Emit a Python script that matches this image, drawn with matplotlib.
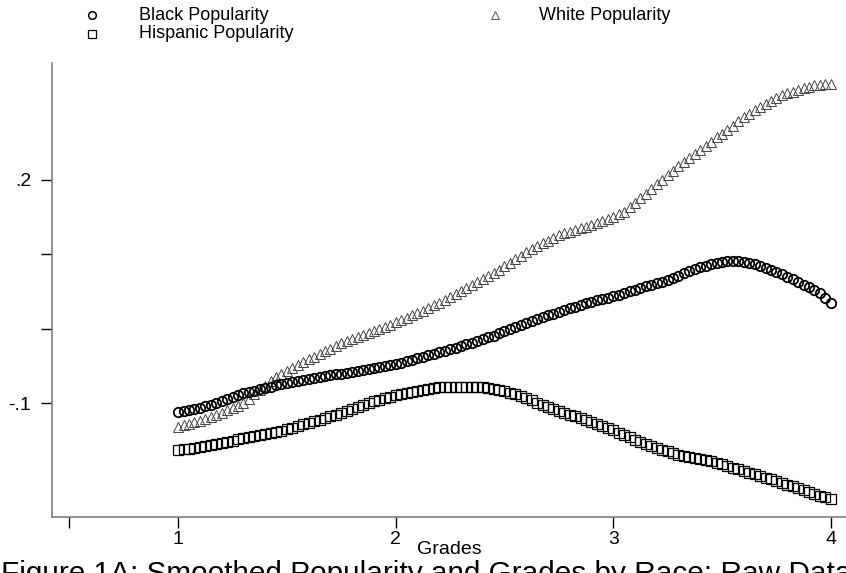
import numpy as np
import matplotlib
matplotlib.use("Agg")
import matplotlib.pyplot as plt
from matplotlib.lines import Line2D

plt.rcParams['font.family'] = ['Liberation Sans', 'DejaVu Sans']

# Smoothed popularity by grade
black_pop = [
    -0.1120, -0.1105, -0.1090, -0.1075, -0.1060, -0.1045, -0.1030, -0.1003, -0.0977, -0.0950,
    -0.0923, -0.0897, -0.0870, -0.0852, -0.0833, -0.0815, -0.0797, -0.0778, -0.0760, -0.0745,
    -0.0730, -0.0715, -0.0700, -0.0685, -0.0670, -0.0659, -0.0648, -0.0637, -0.0626, -0.0615,
    -0.0604, -0.0591, -0.0578, -0.0565, -0.0551, -0.0538, -0.0525, -0.0515, -0.0505, -0.0492,
    -0.0475, -0.0455, -0.0435, -0.0415, -0.0395, -0.0375, -0.0355, -0.0335, -0.0315, -0.0295,
    -0.0275, -0.0255, -0.0233, -0.0210, -0.0187, -0.0163, -0.0140, -0.0117, -0.0092, -0.0063,
    -0.0034, -0.0005, 0.0024, 0.0053, 0.0082, 0.0106, 0.0130, 0.0154, 0.0178, 0.0202,
    0.0227, 0.0250, 0.0273, 0.0296, 0.0319, 0.0342, 0.0365, 0.0383, 0.0401, 0.0419,
    0.0437, 0.0459, 0.0481, 0.0503, 0.0525, 0.0546, 0.0568, 0.0590, 0.0611, 0.0632,
    0.0653, 0.0683, 0.0713, 0.0743, 0.0772, 0.0800, 0.0826, 0.0848, 0.0868, 0.0885,
    0.0898, 0.0906, 0.0908, 0.0905, 0.0897, 0.0885, 0.0869, 0.0845, 0.0818, 0.0790,
    0.0762, 0.0732, 0.0700, 0.0665, 0.0629, 0.0593, 0.0556, 0.0518, 0.0476, 0.0418,
    0.0350,
]

white_pop = [
    -0.1324, -0.1300, -0.1279, -0.1257, -0.1235, -0.1212, -0.1190, -0.1158, -0.1127, -0.1095,
    -0.1063, -0.1032, -0.1000, -0.0942, -0.0883, -0.0825, -0.0767, -0.0708, -0.0650, -0.0610,
    -0.0570, -0.0531, -0.0491, -0.0451, -0.0412, -0.0378, -0.0342, -0.0306, -0.0270, -0.0234,
    -0.0198, -0.0166, -0.0139, -0.0112, -0.0085, -0.0058, -0.0031, -0.0004, 0.0025, 0.0055,
    0.0085, 0.0117, 0.0149, 0.0180, 0.0212, 0.0244, 0.0276, 0.0314, 0.0352, 0.0391,
    0.0429, 0.0467, 0.0505, 0.0545, 0.0585, 0.0625, 0.0665, 0.0705, 0.0748, 0.0794,
    0.0840, 0.0887, 0.0933, 0.0979, 0.1025, 0.1065, 0.1105, 0.1145, 0.1185, 0.1225,
    0.1262, 0.1284, 0.1306, 0.1328, 0.1350, 0.1372, 0.1395, 0.1420, 0.1445, 0.1472,
    0.1502, 0.1535, 0.1570, 0.1630, 0.1692, 0.1754, 0.1815, 0.1877, 0.1938, 0.1998,
    0.2059, 0.2120, 0.2180, 0.2240, 0.2295, 0.2350, 0.2405, 0.2460, 0.2515, 0.2570,
    0.2622, 0.2676, 0.2730, 0.2784, 0.2838, 0.2890, 0.2935, 0.2975, 0.3015, 0.3055,
    0.3095, 0.3135, 0.3165, 0.3186, 0.3207, 0.3228, 0.3249, 0.3268, 0.3280, 0.3287,
    0.3292,
]

hispanic_pop = [
    -0.1634, -0.1623, -0.1612, -0.1600, -0.1589, -0.1578, -0.1567, -0.1551, -0.1535, -0.1519,
    -0.1504, -0.1488, -0.1472, -0.1459, -0.1445, -0.1432, -0.1419, -0.1405, -0.1392, -0.1371,
    -0.1350, -0.1329, -0.1308, -0.1287, -0.1266, -0.1244, -0.1222, -0.1199, -0.1177, -0.1154,
    -0.1132, -0.1106, -0.1079, -0.1052, -0.1025, -0.0998, -0.0971, -0.0953, -0.0934, -0.0915,
    -0.0896, -0.0884, -0.0870, -0.0856, -0.0842, -0.0828, -0.0814, -0.0800, -0.0790, -0.0786,
    -0.0784, -0.0783, -0.0783, -0.0784, -0.0785, -0.0787, -0.0790, -0.0796, -0.0805, -0.0822,
    -0.0840, -0.0858, -0.0878, -0.0900, -0.0930, -0.0961, -0.0992, -0.1023, -0.1055, -0.1080,
    -0.1104, -0.1129, -0.1154, -0.1178, -0.1203, -0.1230, -0.1257, -0.1284, -0.1311, -0.1338,
    -0.1365, -0.1397, -0.1428, -0.1460, -0.1491, -0.1523, -0.1555, -0.1580, -0.1602, -0.1625,
    -0.1647, -0.1669, -0.1692, -0.1710, -0.1725, -0.1740, -0.1754, -0.1769, -0.1784, -0.1800,
    -0.1822, -0.1845, -0.1867, -0.1890, -0.1912, -0.1935, -0.1957, -0.1980, -0.2002, -0.2025,
    -0.2047, -0.2070, -0.2095, -0.2120, -0.2144, -0.2169, -0.2193, -0.2218, -0.2242, -0.2267,
    -0.2290,
]

grade_min, grade_max = 1.0, 4.0
x_ticks = [0.5, 1, 2, 3, 4]
x_ticklabels = ['', '1', '2', '3', '4']
y_ticks = [-0.1, 0.0, 0.1, 0.2]
y_ticklabels = ['-.1', '', '', '.2']
series_labels = ['Black Popularity', 'White Popularity', 'Hispanic Popularity']
x_label = 'Grades'
caption = 'Figure 1A: Smoothed Popularity and Grades by Race: Raw Data'

W, H = 846, 573
fig = plt.figure(figsize=(W / 100, H / 100), dpi=100)
ax = fig.add_axes([52 / W, 1 - 517 / H, 1 - 52 / W, (517 - 63) / H])

def xs(vals):
    return np.linspace(grade_min, grade_max, len(vals))

ax.plot(xs(hispanic_pop), hispanic_pop, linestyle='none', marker='s', ms=6.5,
        mfc='none', mec='black', mew=0.9)
ax.plot(xs(white_pop), white_pop, linestyle='none', marker='^', ms=7.5,
        mfc='none', mec='#444444', mew=0.7)
ax.plot(xs(black_pop), black_pop, linestyle='none', marker='o', ms=6.8,
        mfc='none', mec='black', mew=1.3)

ax.set_xlim(0.42, 4.07)
ax.set_ylim(-0.253, 0.357)
ax.set_xticks(x_ticks)
ax.set_xticklabels(x_ticklabels)
ax.set_yticks(y_ticks)
ax.set_yticklabels(y_ticklabels)

for s in ['top', 'right']:
    ax.spines[s].set_visible(False)
for s in ['left', 'bottom']:
    ax.spines[s].set_color('#7f7f7f')
    ax.spines[s].set_linewidth(1.2)

ax.tick_params(axis='both', direction='out', length=8, width=1.0, colors='black',
               labelsize=14)
ax.tick_params(axis='x', pad=2)
ax.tick_params(axis='y', pad=7)
ax.get_xticklines()[0].set_color('#7f7f7f')

fig.text((52 + 846) / 2 / W, 1 - 549 / H, x_label, ha='center', va='center', fontsize=14)
fig.text(1 / W, 1 - 582 / H, caption, ha='left', va='baseline', fontsize=21.4)

# legend
leg = [
    (92, 15, 'o', 'black', 1.1, 139, series_labels[0]),
    (495, 15, '^', '#555555', 0.7, 539, series_labels[1]),
    (92, 34, 's', 'black', 0.9, 139, series_labels[2]),
]
for mx, my, mk, mc, mw, tx, lab in leg:
    fig.add_artist(Line2D([mx / W], [1 - my / H], transform=fig.transFigure,
                          marker=mk, ms=5.5, mfc='none', mec=mc, mew=mw, linestyle='none'))
    fig.text(tx / W, 1 - my / H, lab, ha='left', va='center', fontsize=13)

fig.savefig('out.png', dpi=100)
